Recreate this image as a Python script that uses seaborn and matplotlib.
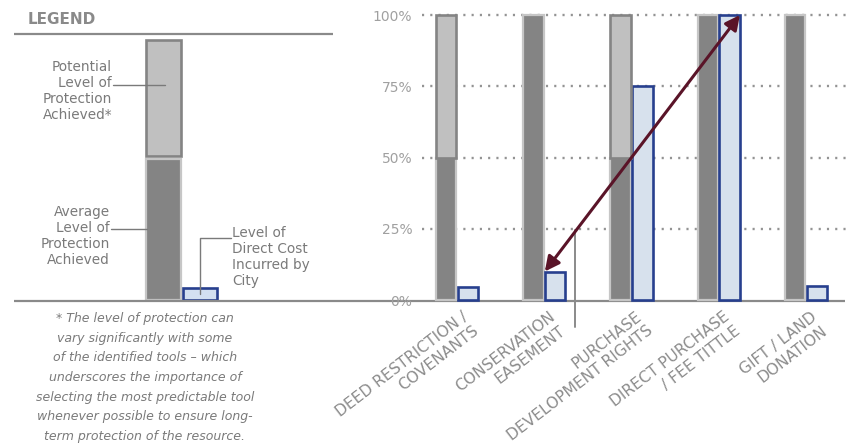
import matplotlib
matplotlib.use("Agg")
import matplotlib.pyplot as plt
from matplotlib.patches import Rectangle
import numpy as np
import pandas as pd
import seaborn as sns

# ---- data -------------------------------------------------------------
tools = [
    "DEED RESTRICTION /\nCOVENANTS",
    "CONSERVATION\nEASEMENT",
    "PURCHASE\nDEVELOPMENT RIGHTS",
    "DIRECT PURCHASE\n/ FEE TITTLE",
    "GIFT / LAND\nDONATION",
]
avg_protection = [50, 100, 50, 100, 100]         # average level achieved (%)
potential_protection = [100, 100, 100, 100, 100]  # potential level achieved (%)
direct_cost = [4.5, 10, 75, 100, 5]               # direct cost to the city (%)
ytick_values = [0, 25, 50, 75, 100]
ytick_labels = ["0%", "25%", "50%", "75%", "100%"]

footnote = ("* The level of protection can\n"
            "vary significantly with some\n"
            "of the identified tools \u2013 which\n"
            "underscores the importance of\n"
            "selecting the most predictable tool\n"
            "whenever possible to ensure long-\n"
            "term protection of the resource.")

# ---- colours ----------------------------------------------------------
DARK = "#848484"
LIGHT = "#c0c0c0"
LIGHT_EDGE = "#c6c6c6"
BLUE_FILL = "#d3e0f1"
BLUE_EDGE = "#273f8e"
ARROW = "#5a1428"
LINE = "#8a8a8a"
TEXT = "#7a7a7a"

sns.set_style("white")
plt.rcParams["font.family"] = ["DejaVu Sans"]

W, H = 856, 444
fig = plt.figure(figsize=(W / 100, H / 100), dpi=100)

# overlay in pixel coordinates for the legend panel and rules
ov = fig.add_axes([0, 0, 1, 1], zorder=0)
ov.set_xlim(0, W)
ov.set_ylim(H, 0)
ov.axis("off")

# main chart axes
ax = fig.add_axes([422 / W, 144 / H, 425 / W, 285 / H], zorder=1)
ax.patch.set_alpha(0)

df = pd.DataFrame({
    "tool": tools * 2,
    "value": avg_protection + direct_cost,
    "measure": ["Average protection"] * len(tools) + ["Direct cost"] * len(tools),
})
sns.barplot(data=df, x="tool", y="value", hue="measure",
            palette=[DARK, BLUE_FILL], width=0.5, gap=0.06,
            legend=False, ax=ax, zorder=3)

avg_bars, cost_bars = ax.containers[0], ax.containers[1]
for p in avg_bars:
    p.set_edgecolor(LIGHT_EDGE)
    p.set_linewidth(1.6)
    p.set_clip_on(False)
for p in cost_bars:
    p.set_edgecolor(BLUE_EDGE)
    p.set_linewidth(1.9)
    p.set_clip_on(False)

# potential protection stacked on top of the average level
for p, lo, hi in zip(avg_bars, avg_protection, potential_protection):
    if hi > lo:
        ax.bar(p.get_x() + p.get_width() / 2, hi - lo, bottom=lo,
               width=p.get_width(), color=LIGHT, edgecolor=DARK,
               linewidth=1.9, zorder=3, clip_on=False)

ax.set_xlim(-0.4, 4.47)
ax.set_ylim(0, 100)
ax.set_xlabel("")
ax.set_ylabel("")
for s in ax.spines.values():
    s.set_visible(False)

ax.set_yticks(ytick_values)
ax.set_yticklabels(ytick_labels, color="#a0a0a0", fontsize=10)
ax.tick_params(axis="y", length=0, pad=7)
ax.yaxis.grid(True, color="#939393", linewidth=1.7, linestyle=(0, (0.9, 2.6)))
ax.set_axisbelow(True)
for g in ax.get_ygridlines():
    g.set_clip_on(False)
ax.get_ygridlines()[0].set_visible(False)

# category labels, rotated and right-aligned under each pair of bars
ax.set_xticks(range(len(tools)))
ax.set_xticklabels([])
ax.tick_params(axis="x", length=0)
for i, name in enumerate(tools):
    ax.text(i + 0.05, -3.2, name, rotation=37.5, rotation_mode="anchor",
            ha="right", va="top", multialignment="right",
            fontsize=11.2, color="#8c8c8c", linespacing=1.2, clip_on=False)

# double-headed arrow between the conservation easement and direct purchase costs
b1, b3 = cost_bars[1], cost_bars[3]
ax.annotate("", xy=(b3.get_x() + b3.get_width(), direct_cost[3]),
            xytext=(b1.get_x(), direct_cost[1]),
            arrowprops=dict(arrowstyle="<|-|>", color=ARROW, lw=2.2,
                            mutation_scale=22, shrinkA=0, shrinkB=0),
            zorder=6, annotation_clip=False)

# ---- legend panel and rules ------------------------------------------
ov.text(28, 20, "LEGEND", fontsize=11, fontweight="bold", color="#8a8a8a",
        ha="left", va="center")
ov.plot([14, 333], [34, 34], color=LINE, lw=1.6, solid_capstyle="butt")
ov.plot([14, 845], [301, 301], color=LINE, lw=1.6, solid_capstyle="butt")
ov.plot([575, 575], [230, 327], color=LINE, lw=1.4)

ov.add_patch(Rectangle((146, 40), 35, 116, facecolor=LIGHT, edgecolor=DARK, lw=1.9))
ov.add_patch(Rectangle((146, 159), 35, 141, facecolor=DARK, edgecolor=LIGHT_EDGE, lw=1.6))
ov.add_patch(Rectangle((183, 288), 34, 12, facecolor=BLUE_FILL, edgecolor=BLUE_EDGE, lw=1.9))

ov.text(112, 91, "Potential\nLevel of\nProtection\nAchieved*", ha="right",
        va="center", multialignment="right", fontsize=9.8, color=TEXT,
        linespacing=1.2)
ov.plot([113, 165], [85, 85], color=TEXT, lw=1)

ov.text(110, 236, "Average\nLevel of\nProtection\nAchieved", ha="right",
        va="center", multialignment="right", fontsize=9.8, color=TEXT,
        linespacing=1.2)
ov.plot([111, 147], [229, 229], color=TEXT, lw=1)

ov.text(232, 257, "Level of\nDirect Cost\nIncurred by\nCity", ha="left",
        va="center", multialignment="left", fontsize=9.8, color=TEXT,
        linespacing=1.2)
ov.plot([231, 200, 200], [238, 238, 294], color=TEXT, lw=1)

ov.text(145, 377.5, footnote, ha="center", va="center", multialignment="center",
        fontsize=9, style="italic", color=TEXT, linespacing=1.66)

fig.savefig("out.png", dpi=100)
